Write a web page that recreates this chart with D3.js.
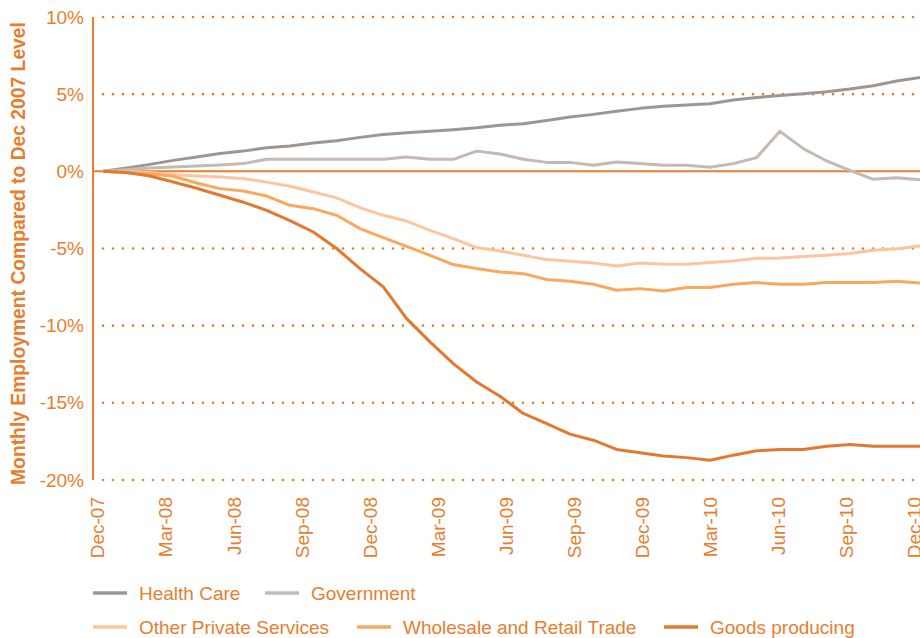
<!DOCTYPE html>
<html>
<head>
<meta charset="utf-8">
<script src="https://cdn.jsdelivr.net/npm/d3@7"></script>
<style>
  html, body { margin: 0; padding: 0; background: #fff; }
  svg { display: block; font-family: "Liberation Sans", Arial, Helvetica, sans-serif; }
</style>
</head>
<body>
<svg id="chart" width="920" height="638"></svg>
<script>
// Monthly employment, percent change versus December 2007
const months = ["Dec-07","Jan-08","Feb-08","Mar-08","Apr-08","May-08","Jun-08","Jul-08","Aug-08","Sep-08","Oct-08","Nov-08",
  "Dec-08","Jan-09","Feb-09","Mar-09","Apr-09","May-09","Jun-09","Jul-09","Aug-09","Sep-09","Oct-09","Nov-09",
  "Dec-09","Jan-10","Feb-10","Mar-10","Apr-10","May-10","Jun-10","Jul-10","Aug-10","Sep-10","Oct-10","Nov-10"];

const healthCare = [0, 0.21, 0.45, 0.71, 0.93, 1.15, 1.31, 1.53, 1.64, 1.83, 1.98, 2.2,
  2.38, 2.5, 2.6, 2.7, 2.82, 2.98, 3.09, 3.3, 3.52, 3.69, 3.89, 4.08,
  4.21, 4.3, 4.38, 4.62, 4.78, 4.92, 5.02, 5.15, 5.33, 5.55, 5.85, 6.08];

const government = [0, 0.11, 0.21, 0.28, 0.34, 0.41, 0.5, 0.78, 0.78, 0.78, 0.78, 0.78,
  0.78, 0.93, 0.78, 0.78, 1.31, 1.12, 0.78, 0.58, 0.58, 0.39, 0.6, 0.5,
  0.39, 0.39, 0.26, 0.5, 0.89, 2.59, 1.47, 0.67, 0.06, -0.52, -0.41, -0.54];

const otherPrivate = [0, -0.02, -0.08, -0.2, -0.3, -0.37, -0.47, -0.7, -0.97, -1.34, -1.72, -2.35,
  -2.85, -3.22, -3.82, -4.36, -4.94, -5.16, -5.44, -5.72, -5.83, -5.94, -6.13, -5.94,
  -6.02, -6.02, -5.91, -5.81, -5.63, -5.61, -5.52, -5.44, -5.33, -5.12, -5.01, -4.84];

const wholesaleRetail = [0, -0.09, -0.15, -0.32, -0.76, -1.12, -1.27, -1.6, -2.2, -2.42, -2.85, -3.71,
  -4.29, -4.86, -5.44, -6.04, -6.3, -6.52, -6.63, -7.01, -7.12, -7.32, -7.71, -7.6,
  -7.75, -7.53, -7.53, -7.32, -7.21, -7.32, -7.32, -7.21, -7.21, -7.21, -7.12, -7.23];

const goodsProducing = [0, -0.08, -0.3, -0.69, -1.1, -1.55, -2.0, -2.53, -3.2, -3.93, -5.0, -6.3,
  -7.49, -9.54, -11.05, -12.46, -13.65, -14.57, -15.69, -16.34, -17.03, -17.42, -18.02, -18.24,
  -18.44, -18.55, -18.72, -18.39, -18.11, -18.02, -18.02, -17.81, -17.7, -17.81, -17.81, -17.81];

const seriesNames = ["Health Care", "Government", "Other Private Services", "Wholesale and Retail Trade", "Goods producing"];
const seriesColors = ["#9d9793", "#c4bab2", "#fdc59d", "#faa85c", "#e3792f"];
const seriesValues = [healthCare, government, otherPrivate, wholesaleRetail, goodsProducing];

const tickLabels = ["Dec-07","Mar-08","Jun-08","Sep-08","Dec-08","Mar-09","Jun-09","Sep-09","Dec-09","Mar-10","Jun-10","Sep-10","Dec-10"];
const yTicks = [10, 5, 0, -5, -10, -15, -20];
const yTitle = "Monthly Employment Compared to Dec 2007 Level";

const accent = "#e67e30";

const svg = d3.select("#chart");

const x = d3.scalePoint().domain(months).range([103.3, 920]);
const xTick = d3.scalePoint().domain(tickLabels).range([97.5, 914.5]);
const y = d3.scaleLinear().domain([-20, 10]).range([480, 17]);

// dotted gridlines
svg.append("g")
  .selectAll("line")
  .data(yTicks.filter(v => v !== 0))
  .join("line")
  .attr("x1", 103).attr("x2", 920)
  .attr("y1", d => y(d)).attr("y2", d => y(d))
  .attr("stroke", accent)
  .attr("stroke-width", 2.6)
  .attr("stroke-linecap", "round")
  .attr("stroke-dasharray", "0 10");

// zero baseline
svg.append("line")
  .attr("x1", 93).attr("x2", 920)
  .attr("y1", y(0)).attr("y2", y(0))
  .attr("stroke", accent).attr("stroke-width", 2);

// vertical axis
svg.append("line")
  .attr("x1", 93).attr("x2", 93)
  .attr("y1", y(10)).attr("y2", y(-20))
  .attr("stroke", accent).attr("stroke-width", 2);

// y tick labels
svg.append("g")
  .selectAll("text")
  .data(yTicks)
  .join("text")
  .attr("x", 84)
  .attr("y", d => y(d))
  .attr("dy", "0.35em")
  .attr("text-anchor", "end")
  .attr("fill", accent)
  .attr("font-size", 19)
  .text(d => d + "%");

// y axis title
svg.append("text")
  .attr("transform", `translate(25, ${(y(10) + y(-20)) / 2 + 5}) rotate(-90)`)
  .attr("text-anchor", "middle")
  .attr("fill", accent)
  .attr("font-size", 19.3)
  .attr("font-weight", "bold")
  .text(yTitle);

// x tick labels, rotated
svg.append("g")
  .selectAll("text")
  .data(tickLabels)
  .join("text")
  .attr("transform", d => `translate(${xTick(d)}, 497) rotate(-90)`)
  .attr("text-anchor", "end")
  .attr("dy", "0.36em")
  .attr("fill", accent)
  .attr("font-size", 19)
  .text(d => d);

// series lines
const line = d3.line()
  .x((d, i) => x(months[i]))
  .y(d => y(d));

svg.append("g")
  .selectAll("path")
  .data(seriesValues)
  .join("path")
  .attr("d", d => line(d))
  .attr("fill", "none")
  .attr("stroke", (d, i) => seriesColors[i])
  .attr("stroke-width", 3)
  .attr("stroke-linejoin", "round");

// legend
const legendItems = [
  { i: 0, x: 93, y: 593 },
  { i: 1, x: 265, y: 593 },
  { i: 2, x: 93, y: 627 },
  { i: 3, x: 357, y: 627 },
  { i: 4, x: 664, y: 627 }
];
const lg = svg.append("g")
  .selectAll("g")
  .data(legendItems)
  .join("g")
  .attr("transform", d => `translate(${d.x}, ${d.y})`);
lg.append("line")
  .attr("x1", 0).attr("x2", 34)
  .attr("stroke", d => seriesColors[d.i])
  .attr("stroke-width", 3.5);
lg.append("text")
  .attr("x", 46)
  .attr("dy", "0.35em")
  .attr("fill", accent)
  .attr("font-size", 19)
  .text(d => seriesNames[d.i]);
</script>
</body>
</html>
